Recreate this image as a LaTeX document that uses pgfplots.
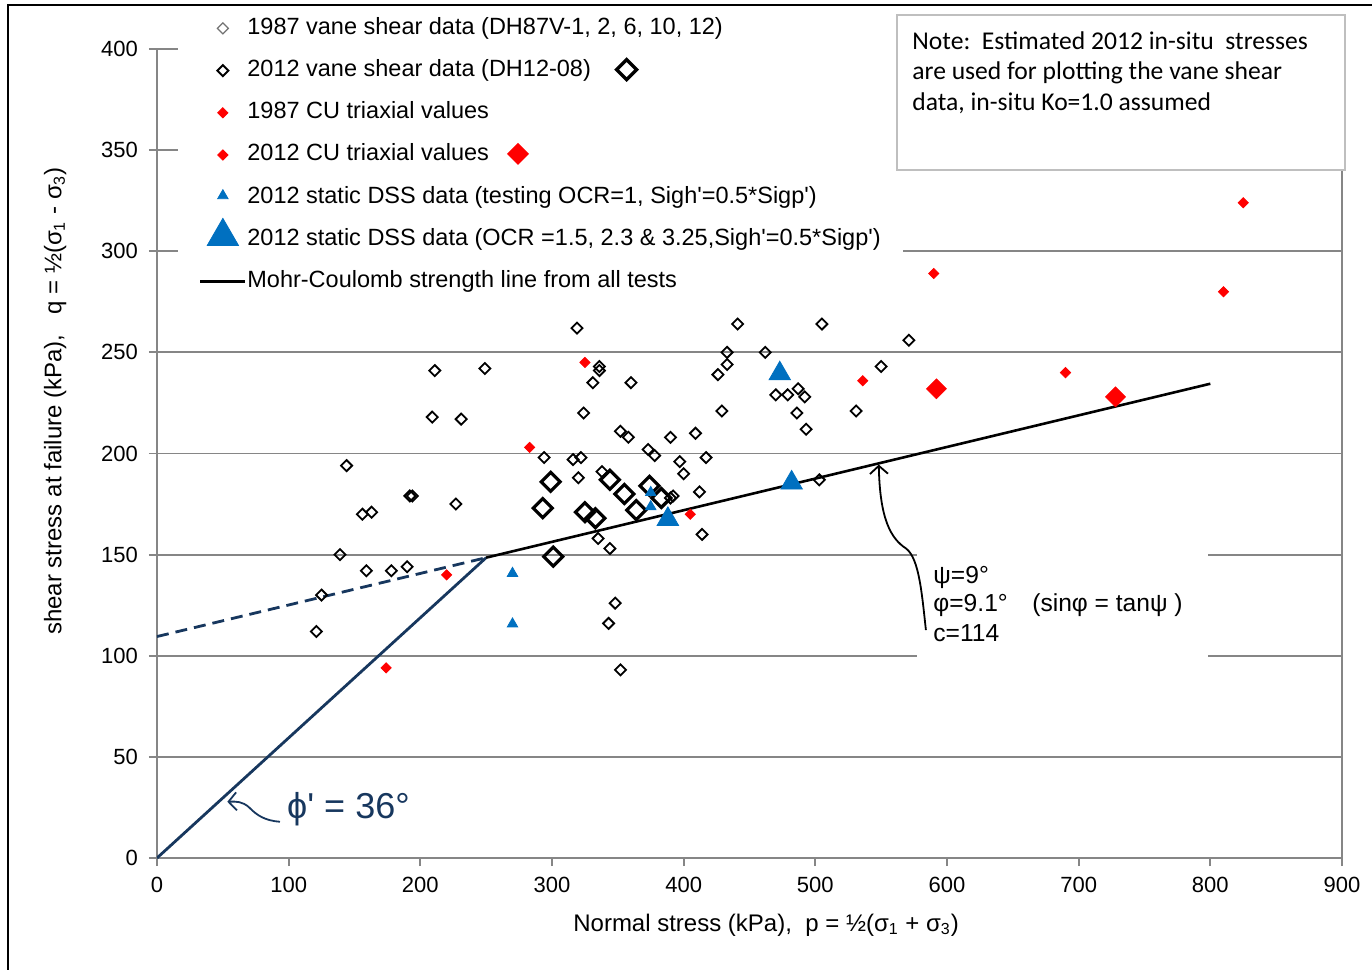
\documentclass[border=0pt]{standalone}
\usepackage{fontspec}
\setmainfont{Liberation Sans}
\newfontfamily\notefont{Carlito}
\usepackage{pgfplots}
\pgfplotsset{compat=1.18}
\usetikzlibrary{arrows.meta}

\definecolor{gridgray}{RGB}{134,134,134}
\definecolor{navy}{RGB}{23,55,94}
\definecolor{dssblue}{RGB}{0,112,192}
\definecolor{cured}{RGB}{255,0,0}

\newcommand{\q}{\textquotesingle}

\begin{document}
\begin{tikzpicture}
% page extent and outer frame
\path[use as bounding box] (-78.5pt,-56pt) rectangle (607.5pt,429pt);
\draw[black, line width=0.6pt] (-74.5pt,-70pt) -- (-74.5pt,426.5pt) -- (640pt,426.5pt);

\begin{axis}[
  at={(0pt,0pt)}, anchor=south west,
  scale only axis, width=592.5pt, height=404.5pt,
  xmin=0, xmax=900, ymin=0, ymax=400,
  xtick={0,100,...,900}, ytick={0,50,...,400},
  tick pos=left, tick align=outside, major tick length=4pt,
  axis line style={gridgray, line width=0.9pt},
  tick style={gridgray, line width=0.9pt},
  ymajorgrids, grid style={gridgray, line width=0.9pt},
  ticklabel style={font=\fontsize{11}{13}\selectfont},
  /pgf/number format/assume math mode=true,
  xticklabel style={yshift=-2pt},
  yticklabel style={xshift=-2pt},
  xlabel={Normal stress (kPa),\ \ p = ½(σ\textsubscript{1} + σ\textsubscript{3})},
  ylabel={shear stress at failure (kPa),\ \ \ q = ½(σ\textsubscript{1} - σ\textsubscript{3})},
  label style={font=\fontsize{12}{14}\selectfont},
  xlabel style={at={(axis description cs:0.514,-0.083)}, anchor=center},
  ylabel style={at={(axis description cs:-0.086,0.565)}, anchor=center},
  legend style={at={(axis description cs:0.0177,1.047)}, anchor=north west,
    draw=none, fill=white, inner xsep=11pt, inner ysep=3pt,
    row sep=10.1pt, column sep=1pt,
    font=\fontsize{11.75}{13}\selectfont,
    nodes={inner sep=0pt, text height=8.5pt, text depth=2.5pt}},
  legend cell align=left,
  legend image code/.code={%
    \begin{pgfinterruptboundingbox}
      \draw[mark repeat=2,mark phase=2] plot coordinates {(0pt,0pt)(11.25pt,0pt)(22.5pt,0pt)};
    \end{pgfinterruptboundingbox}
    \path[draw=none, fill=none] (0pt,-2pt) (22.5pt,2pt);},
]

% strength envelopes
\addplot[forget plot, navy, line width=1.4pt] coordinates {(0,0) (250,148.5)};
\addplot[forget plot, navy, line width=1.4pt, dash pattern=on 6pt off 3.5pt] coordinates {(0,109.5) (250,148.5)};
\addplot[forget plot, black, line width=1.3pt] coordinates {(250,148.5) (800,234.5)};

% 1987 vane shear data
\addplot[only marks, mark=square, mark size=1.95pt,
  mark options={rotate=45, draw=black, line width=0.9pt},
  legend image post style={mark options={rotate=45, draw=black!55, line width=0.6pt}}]
table {
x y
121 112
125 130
139 150
159 142
178 142
190 144
144 194
156 170
163 171
192 179
194 179
209 218
211 241
227 175
231 217
249 242
294 198
316 197
319 262
320 188
322 198
324 220
331 235
336 243
336 241
335 158
338 191
344 153
343 116
348 126
352 93
352 211
358 208
360 235
373 202
378 199
390 208
392 179
390 178
397 196
400 190
409 210
412 181
414 160
417 198
426 239
429 221
433 244
433 250
441 264
462 250
470 229
479 229
487 232
492 228
486 220
493 212
503 187
505 264
531 221
550 243
571 256
};
\addlegendentry{1987 vane shear data (DH87V-1, 2, 6, 10, 12)}

% 2012 vane shear data
\addplot[only marks, mark=square, mark size=3.35pt,
  mark options={rotate=45, draw=black, line width=1.6pt},
  legend image post style={mark size=1.95pt, mark options={rotate=45, draw=black, line width=1pt}}]
table {
x y
293 173
299 186
301 149
325 171
333 168
344 187
355 180
364 172
374 184
383 178
};
\addlegendentry{2012 vane shear data (DH12-08)\hspace{12pt}\tikz[baseline=-3.5pt]\draw[black, line width=1.7pt] (0,5pt)--(5pt,0)--(0,-5pt)--(-5pt,0)--cycle;}

% 1987 CU triaxial
\addplot[only marks, mark=square*, mark size=1.8pt,
  mark options={rotate=45, draw=cured, fill=cured}]
table {
x y
174 94
220 140
283 203
325 245
405 170
536 236
590 289
690 240
810 280
825 324
};
\addlegendentry{1987 CU triaxial values}

% 2012 CU triaxial
\addplot[only marks, mark=square*, mark size=3.5pt,
  mark options={rotate=45, draw=cured, fill=cured},
  legend image post style={mark size=1.8pt}]
table {
x y
592 232
728 228
};
\addlegendentry{2012 CU triaxial values\hspace{9pt}\tikz[baseline=-3.5pt]\fill[cured] (0,5.5pt)--(5.5pt,0)--(0,-5.5pt)--(-5.5pt,0)--cycle;}

% 2012 static DSS, OCR = 1
\addplot[only marks, mark=triangle*, mark size=3pt,
  mark options={draw=dssblue, fill=dssblue, yshift=0.75pt}]
table {
x y
270 140
270 115
375 180
375 173
};
\addlegendentry{2012 static DSS data (testing OCR=1, Sigh\q=0.5*Sigp\q)}

% 2012 static DSS, OCR > 1
\addplot[only marks, mark=triangle*, mark size=6.2pt,
  mark options={draw=dssblue, fill=dssblue, yshift=1.5pt},
  legend image post style={mark size=9pt}]
table {
x y
388 166
473 238
482 184
};
\addlegendentry{2012 static DSS data (OCR =1.5, 2.3 \& 3.25,Sigh\q=0.5*Sigp\q)}

\addlegendimage{black, line width=1.3pt}
\addlegendentry{Mohr-Coulomb strength line from all tests}

% envelope annotation
\fill[white] (axis cs:577.2,95.4) rectangle (axis cs:798.2,157.2);
\draw[black, line width=0.9pt, -{Straight Barb[length=4pt, width=9pt]}]
  (axis cs:584,112.7) .. controls (axis cs:581,130) and (axis cs:579,148) .. (axis cs:569,153)
  .. controls (axis cs:557,158) and (axis cs:549,168) .. (axis cs:548.2,194.5);
\node[anchor=base west, inner sep=0pt, font=\fontsize{12.3}{14}\selectfont] at (axis cs:589.4,135.8) {ψ=9°};
\node[anchor=base west, inner sep=0pt, font=\fontsize{12.3}{14}\selectfont] at (axis cs:589.4,122.0) {φ=9.1°};
\node[anchor=base west, inner sep=0pt, font=\fontsize{12.3}{14}\selectfont] at (axis cs:664.5,122.0) {(sinφ = tanψ )};
\node[anchor=base west, inner sep=0pt, font=\fontsize{12.3}{14}\selectfont] at (axis cs:589.4,107.0) {c=114};

% friction angle label
\draw[navy, line width=0.9pt, -{Straight Barb[length=4pt, width=9pt]}]
  (axis cs:93.4,17.9) .. controls (axis cs:82,18.5) and (axis cs:76,21) .. (axis cs:70,25)
  .. controls (axis cs:65,28) and (axis cs:60,28) .. (axis cs:53.4,27.8);
\node[anchor=base west, inner sep=0pt, text=navy, font=\fontsize{18}{20}\selectfont] at (axis cs:98.6,19.6) {ϕ\q{} = 36°};
\end{axis}

% note box
\draw[black!25, line width=0.6pt, fill=white] (370pt,344pt) rectangle (594pt,421.5pt);
\node[anchor=north west, inner sep=0pt, align=left, font=\notefont\fontsize{12.8}{15.25}\selectfont]
  at (377.5pt,413.5pt) {Note:\ \ Estimated 2012 in-situ\ \ stresses\\are used for plotting the vane shear\\data, in-situ Ko=1.0 assumed};
\end{tikzpicture}
\end{document}
